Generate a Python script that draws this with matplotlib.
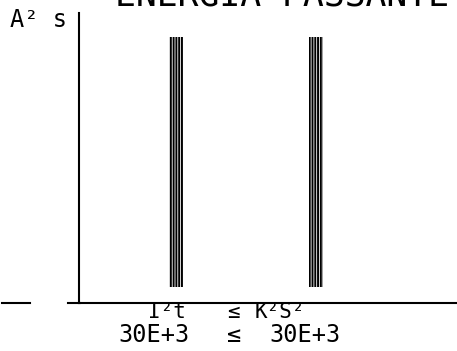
import matplotlib
matplotlib.use("Agg")
import matplotlib.pyplot as plt
from matplotlib.lines import Line2D

# chart values (plotter style "energia passante" check)
categories = ["I²t", "K²S²"]
values = [30e3, 30e3]
value_labels = ["30E+3", "30E+3"]
title = "ENERGIA PASSANTE"
y_unit = "A² s"

W, H = 457, 351
plt.rcParams["font.family"] = ["DejaVu Sans Mono", "DejaVu Sans"]
plt.rcParams["hatch.linewidth"] = 1.4

fig = plt.figure(figsize=(W / 100, H / 100), dpi=100)


def fx(px):
    return px / W


def fy(py):
    return 1 - py / H


# plot area in pixels: left 79, bottom 303, top 13
ax = fig.add_axes([fx(79), fy(303), fx(W - 79), (303 - 13) / H])
ax.bar([0, 1], values, width=0.1, color="white", edgecolor="black",
       hatch="||||||", linewidth=0)
ax.set_xlim(-0.696, 2.004)
ax.set_ylim(-1920, 32880)
for s in ["top", "right"]:
    ax.spines[s].set_visible(False)
ax.spines["left"].set_linewidth(1.5)
ax.spines["bottom"].set_linewidth(1.5)
ax.set_xticks([])
ax.set_yticks([])

# bottom axis extension and stray dash on the left
fig.add_artist(Line2D([fx(68), fx(80)], [fy(303), fy(303)], color="black", lw=1.5))
fig.add_artist(Line2D([fx(2), fx(30)], [fy(303), fy(303)], color="black", lw=1.5))

# title sits mostly above the page edge, as in the scan
fig.text(fx(282), fy(6), title, ha="center", va="baseline", fontsize=25)
fig.text(fx(10), fy(27), y_unit, ha="left", va="baseline", fontsize=17)

# formula line and value line under the axis
fig.text(fx(167), fy(318), categories[0], ha="center", va="baseline", fontsize=15)
fig.text(fx(233), fy(318), "≤", ha="center", va="baseline", fontsize=15)
fig.text(fx(280), fy(318), categories[1], ha="center", va="baseline", fontsize=15)

fig.text(fx(154), fy(342), value_labels[0], ha="center", va="baseline", fontsize=17)
fig.text(fx(234), fy(342), "≤", ha="center", va="baseline", fontsize=17)
fig.text(fx(305), fy(342), value_labels[1], ha="center", va="baseline", fontsize=17)

fig.savefig("out.png", dpi=100)
